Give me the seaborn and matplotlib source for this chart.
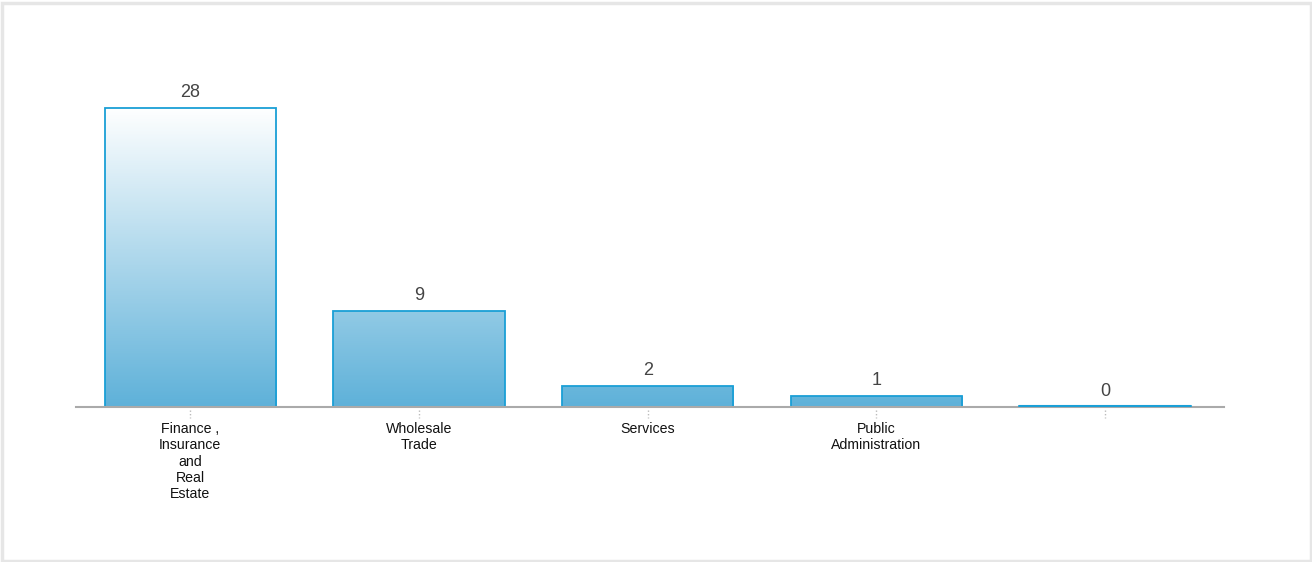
import numpy as np
import pandas as pd
import matplotlib
matplotlib.use("Agg")
import matplotlib.pyplot as plt
from matplotlib.colors import LinearSegmentedColormap
from matplotlib.patches import Rectangle
import seaborn as sns

# data
categories = ["Finance ,\nInsurance\nand\nReal\nEstate", "Wholesale\nTrade", "Services",
              "Public\nAdministration", ""]
counts = [28, 9, 2, 1, 0]

df = pd.DataFrame({"category": [f"c{i}" for i in range(len(counts))], "count": counts})

sns.set_theme(style="white")
plt.rcParams["font.family"] = ["Liberation Sans", "DejaVu Sans"]

fig = plt.figure(figsize=(13.12, 5.62), dpi=100)
ax = fig.add_axes([76 / 1312, 1 - 407 / 562, (1224 - 76) / 1312, (407 - 48) / 562])

sns.barplot(data=df, x="category", y="count", width=0.75, ax=ax,
            facecolor="none", edgecolor="#1a9fd6", linewidth=1.3)

ymax = max(counts)
ax.set_xlim(-0.5, 4.52)
ax.set_ylim(0, ymax * 1.2)

# vertical gradient shared by all bars (white at the top value -> blue at baseline)
cmap = LinearSegmentedColormap.from_list("grad", ["#5eb1d9", "#ffffff"])
grad = np.linspace(0, 1, 256).reshape(-1, 1)
for bar in ax.patches:
    if bar.get_height() <= 0:
        continue
    im = ax.imshow(grad, cmap=cmap, origin="lower", aspect="auto",
                   extent=[-0.5, 4.52, 0, ymax], zorder=bar.get_zorder() - 0.1)
    im.set_clip_path(bar)
# zero-height bar drawn as a thin line
for bar in ax.patches:
    if bar.get_height() <= 0:
        ax.plot([bar.get_x(), bar.get_x() + bar.get_width()], [0.05, 0.05],
                color="#1a9fd6", lw=1.5, zorder=3)
ax.set_xlim(-0.5, 4.52)
ax.set_ylim(0, ymax * 1.2)

for i, v in enumerate(counts):
    ax.annotate(str(v), (i, v), xytext=(0, 5), textcoords="offset points",
                ha="center", va="bottom", fontsize=13, color="#444444")

sns.despine(ax=ax, left=True, top=True, right=True)
ax.spines["bottom"].set_color("#aaaaaa")
ax.spines["bottom"].set_linewidth(1.5)
ax.set_yticks([])
ax.set_xlabel("")
ax.set_ylabel("")
ax.set_xticks(range(len(categories)))
ax.set_xticklabels(categories, fontsize=10.2, color="#111111", linespacing=1.2)
ax.tick_params(axis="x", length=0, pad=11)
# dotted tick marks below the axis
for i in range(len(categories)):
    ax.plot([i, i], [-0.3, -1.0], color="#bbbbbb", lw=1, ls=(0, (1, 1.5)),
            clip_on=False, zorder=1)

# light frame around the whole picture
fig.patches.append(Rectangle((0.0015, 0.002), 0.9975, 0.993, transform=fig.transFigure,
                             fill=False, edgecolor="#e6e6e6", linewidth=2.5))

fig.savefig("out.png", dpi=100, facecolor="white")
